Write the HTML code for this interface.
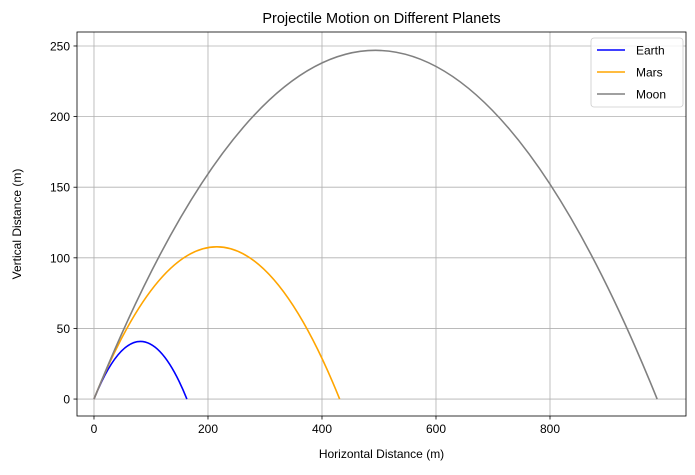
<!DOCTYPE html>
<html><head><meta charset="utf-8"><style>
body{margin:0;background:#fff;}
svg{font-family:"Liberation Sans","DejaVu Sans",sans-serif;}
</style></head><body>
<svg id="chart" width="695" height="470"></svg>
<script>
const planets = ["Earth","Mars","Moon"];
const ranges = [163, 431, 988];
const peaks = [40.8, 107.8, 246.9];
const colors = ["blue","orange","gray"];
const xTicks = [0,200,400,600,800];
const yTicks = [0,50,100,150,200,250];

const NS="http://www.w3.org/2000/svg";
const svg=document.getElementById('chart');
const L=77,R=686,T=32,B=416;
const xMin=-29.8,xMax=1038.6,yMin=-12,yMax=259.9;
function xs(v){return L+(v-xMin)/(xMax-xMin)*(R-L);}
function ys(v){return B-(v-yMin)/(yMax-yMin)*(B-T);}
function mk(tag,attrs,parent){const e=document.createElementNS(NS,tag);for(const k in attrs)e.setAttribute(k,attrs[k]);(parent||svg).appendChild(e);return e;}

const grid=mk('g',{});


xTicks.forEach(t=>{
  const g=mk('line',{x1:xs(t),x2:xs(t),y1:T,y2:B,stroke:'#b0b0b0','stroke-width':0.8},grid);
  
  
  mk('line',{x1:xs(t),x2:xs(t),y1:B,y2:B+3.5,stroke:'#000','stroke-width':0.8});
  const tx=mk('text',{x:xs(t),y:B+17,'text-anchor':'middle','font-size':12});
  tx.textContent=t;
  
  
});
yTicks.forEach(t=>{
  const g=mk('line',{x1:L,x2:R,y1:ys(t),y2:ys(t),stroke:'#b0b0b0','stroke-width':0.8},grid);
  
  
  mk('line',{x1:L-3.5,x2:L,y1:ys(t),y2:ys(t),stroke:'#000','stroke-width':0.8});
  const tx=mk('text',{x:L-7,y:ys(t)+4.5,'text-anchor':'end','font-size':12});
  tx.textContent=t;
  
  
});

planets.forEach((p,i)=>{
  const path=mk('path',{d:`M${xs(0)},${ys(0)} Q${xs(ranges[i]/2)},${ys(2*peaks[i])} ${xs(ranges[i])},${ys(0)}`,fill:'none',stroke:colors[i],'stroke-width':1.6});
  
  
});

const frame=mk('rect',{x:L,y:T,width:R-L,height:B-T,fill:'none',stroke:'#000','stroke-width':0.8});



const title=mk('text',{x:(L+R)/2,y:T-9,'text-anchor':'middle','font-size':14.5});
title.textContent='Projectile Motion on Different Planets';


const xl=mk('text',{x:(L+R)/2,y:458,'text-anchor':'middle','font-size':12});
xl.textContent='Horizontal Distance (m)';


const yl=mk('text',{x:21,y:(T+B)/2,'text-anchor':'middle','font-size':12,transform:`rotate(-90 21 ${(T+B)/2})`});
yl.textContent='Vertical Distance (m)';



const leg=mk('g',{});


mk('rect',{x:591,y:38,width:92,height:69,rx:3,fill:'#fff','fill-opacity':0.8,stroke:'#ccc','stroke-width':0.8},leg);
planets.forEach((p,i)=>{
  const y=50+i*22;
  const ln=mk('line',{x1:597,x2:625,y1:y,y2:y,stroke:colors[i],'stroke-width':1.6},leg);
  
  
  const t=mk('text',{x:636,y:y+4.5,'font-size':12},leg);
  t.textContent=p;
  
  
});
</script>
</body></html>
